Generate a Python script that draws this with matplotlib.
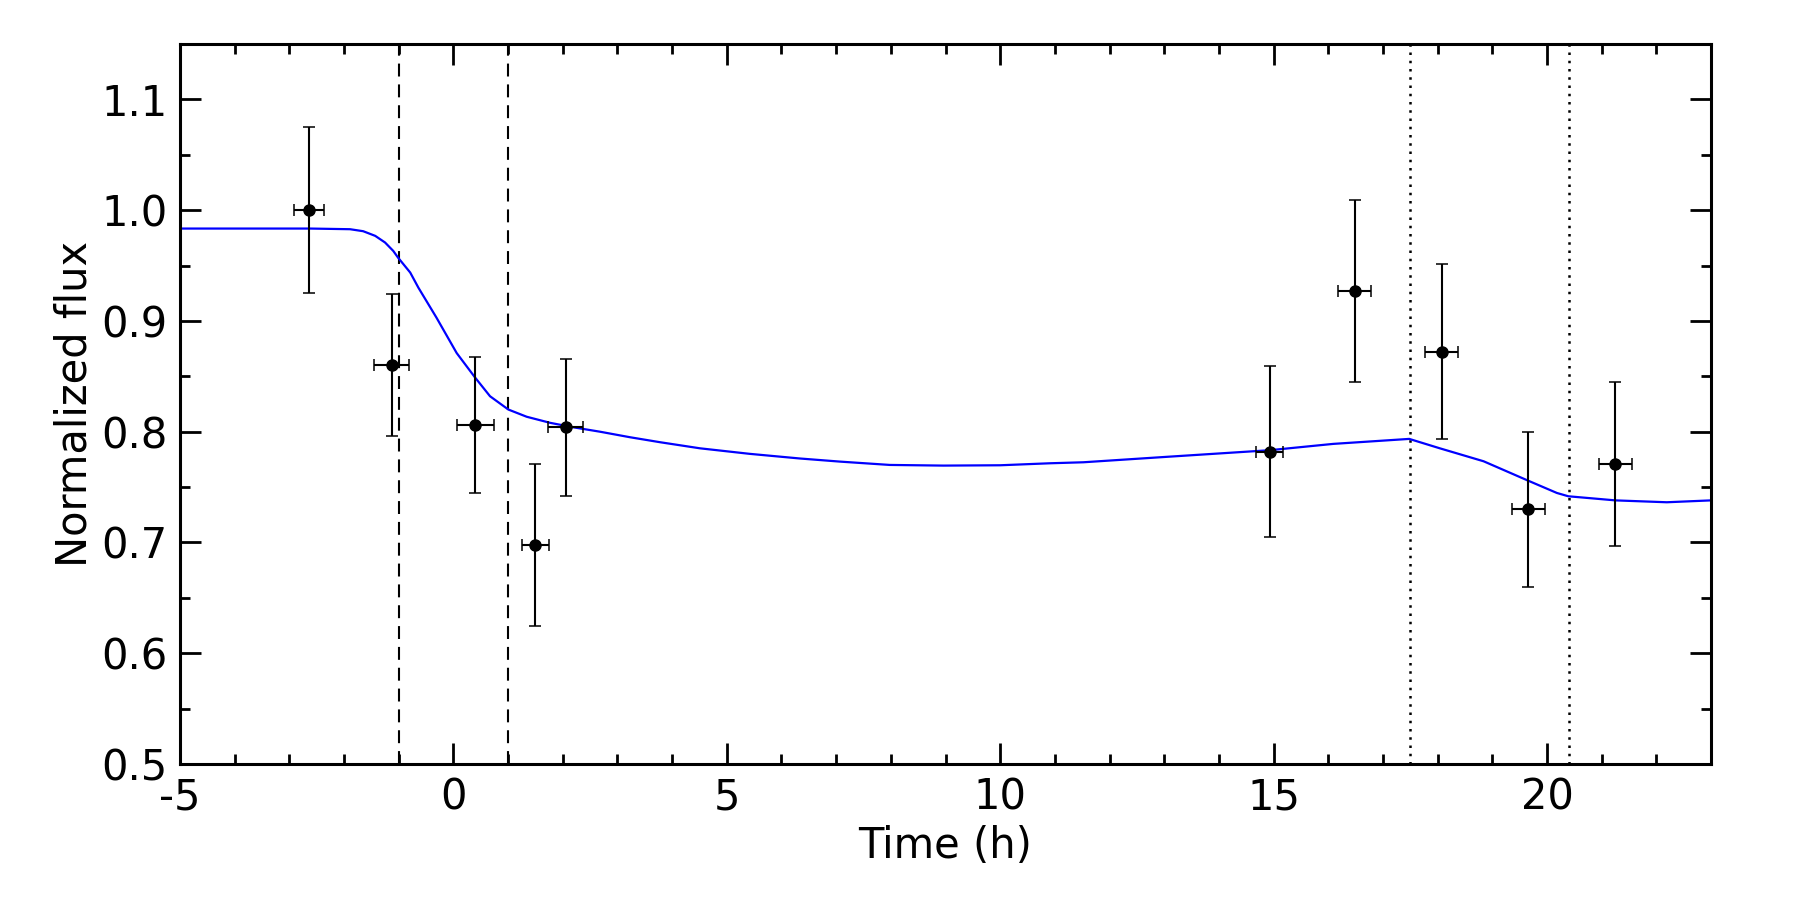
import matplotlib
matplotlib.use("Agg")
import matplotlib.pyplot as plt
from matplotlib.ticker import MultipleLocator, FormatStrFormatter

# Observed data points
obs_time = [-2.64, -1.13, 0.40, 1.50, 2.05, 14.93, 16.48, 18.07, 19.66, 21.25]
obs_flux = [1.000, 0.860, 0.806, 0.698, 0.804, 0.782, 0.927, 0.872, 0.730, 0.771]
obs_ferr = [0.075, 0.064, 0.061, 0.073, 0.062, 0.077, 0.082, 0.079, 0.070, 0.074]
obs_terr = [0.27, 0.32, 0.335, 0.25, 0.32, 0.245, 0.30, 0.30, 0.30, 0.30]

# Model curve
model_t = [-5.0, -2.62, -1.89, -1.65, -1.43, -1.25, -1.10, -1.01, -0.79, -0.64,
           -0.31, 0.06, 0.395, 0.67, 1.005, 1.34, 1.77, 2.19, 2.68, 3.23, 3.78,
           4.51, 5.42, 6.34, 7.07, 7.98, 8.96, 10.0, 10.91, 11.52, 13.04, 14.93,
           16.09, 17.48, 18.04, 18.84, 19.65, 20.18, 20.39, 21.25, 22.19, 23.0]
model_f = [0.9834, 0.9834, 0.9828, 0.981, 0.9768, 0.9708, 0.9632, 0.957, 0.9437, 0.930,
           0.903, 0.871, 0.849, 0.832, 0.820, 0.8135, 0.808, 0.804, 0.800, 0.795, 0.7905,
           0.785, 0.780, 0.7758, 0.773, 0.770, 0.7694, 0.7697, 0.7715, 0.7724, 0.7773, 0.7833,
           0.789, 0.7935, 0.785, 0.7733, 0.7559, 0.7447, 0.7417, 0.738, 0.7363, 0.738]

dashed_lines = [-1.0, 1.0]
dotted_lines = [17.5, 20.4]

x_ticks = [-5, 0, 5, 10, 15, 20]
x_ticklabels = ["-5", "0", "5", "10", "15", "20"]
y_ticks = [0.5, 0.6, 0.7, 0.8, 0.9, 1.0, 1.1]

plt.rcParams['font.family'] = ['DejaVu Sans']
plt.rcParams['axes.unicode_minus'] = False

fig = plt.figure(figsize=(18, 9), dpi=100)
ax = fig.add_axes([0.1, 0.1511, 0.8506, 0.8])

ax.plot(model_t, model_f, color='#0000ff', lw=1.6, zorder=2,
        solid_joinstyle='round')

for xv in dashed_lines:
    ax.axvline(xv, color='black', lw=1.5, linestyle=(0, (6.2, 3.8)), zorder=1)
for xv in dotted_lines:
    ax.axvline(xv, color='black', lw=1.8, linestyle=(0, (1.0, 2.3)), zorder=1)

ax.errorbar(obs_time, obs_flux, yerr=obs_ferr, xerr=obs_terr, fmt='o',
            color='black', ms=8, elinewidth=1.5, capsize=4.3, capthick=1.1,
            zorder=3)

ax.set_xlim(-5, 23)
ax.set_ylim(0.5, 1.15)
ax.set_xticks(x_ticks)
ax.set_xticklabels(x_ticklabels)
ax.set_yticks(y_ticks)
ax.yaxis.set_major_formatter(FormatStrFormatter('%.1f'))
ax.xaxis.set_minor_locator(MultipleLocator(1))
ax.yaxis.set_minor_locator(MultipleLocator(0.05))

ax.tick_params(which='both', direction='in', top=True, right=True,
               labelsize=30, pad=9)
ax.tick_params(which='major', length=15, width=2.0)
ax.tick_params(which='minor', length=7.5, width=2.0)
for s in ax.spines.values():
    s.set_linewidth(2.2)

ax.set_xlabel("Time (h)", fontsize=30, labelpad=5)
ax.set_ylabel("Normalized flux", fontsize=30, labelpad=4)

fig.savefig("out.png", dpi=100)
